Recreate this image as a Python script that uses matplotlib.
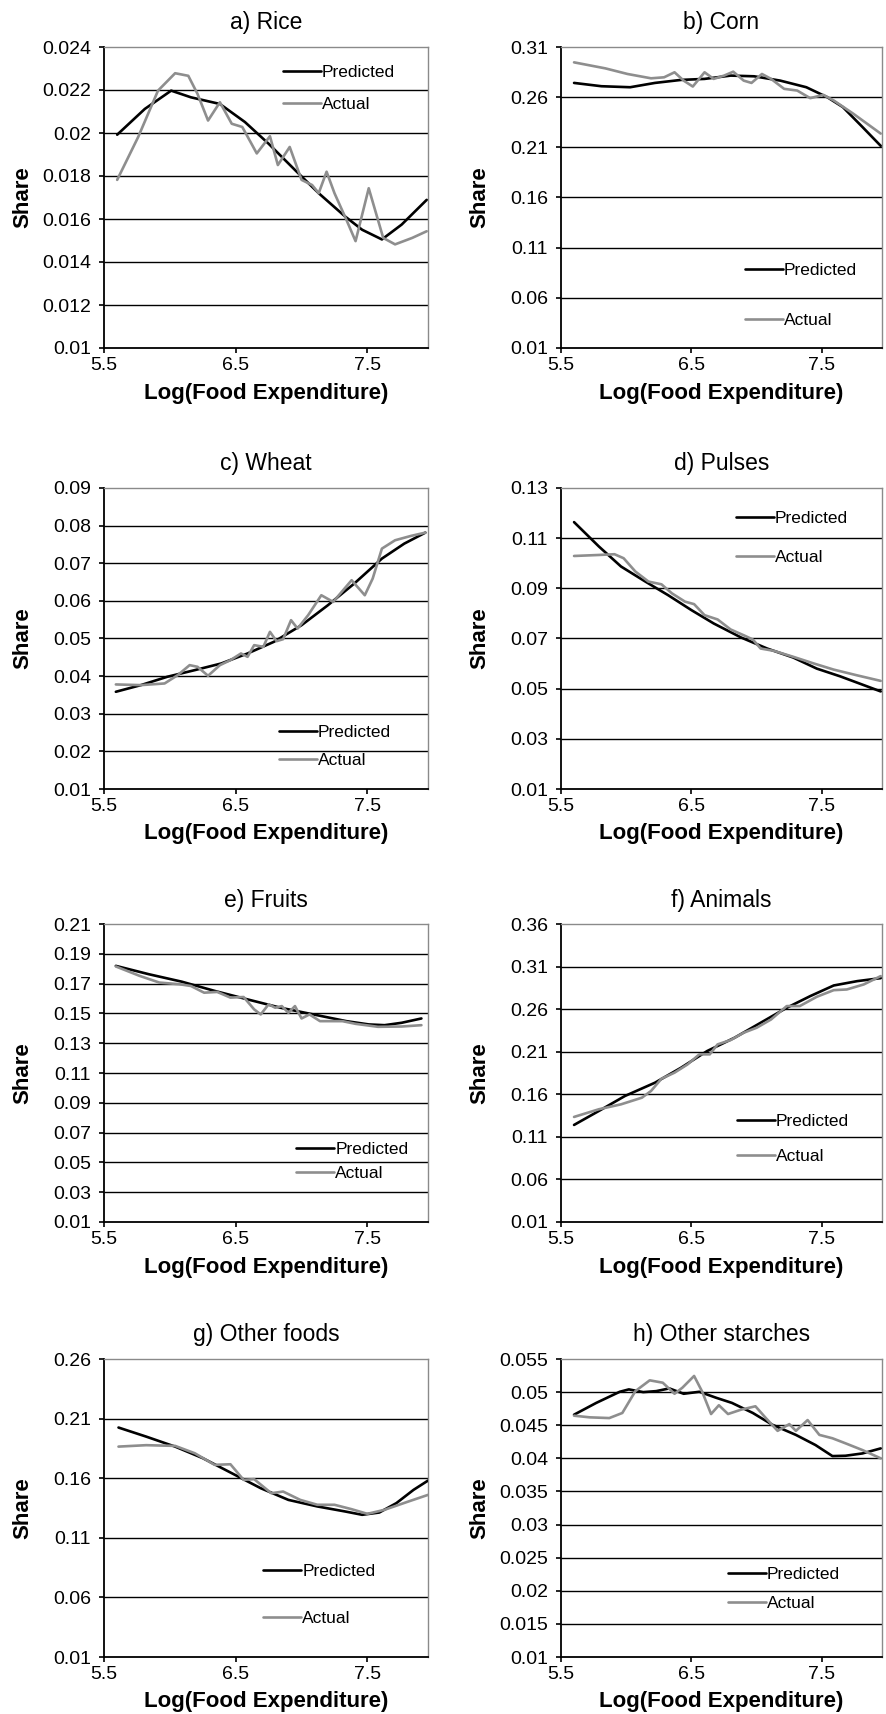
import matplotlib
matplotlib.use('Agg')
import matplotlib.pyplot as plt
from matplotlib.lines import Line2D

plt.rcParams['font.family'] = ['Liberation Sans', 'DejaVu Sans']

# ---------------- data ----------------
x_ticks = [5.5, 6.5, 7.5]
x_tick_labels = ['5.5', '6.5', '7.5']

titles = ['a) Rice', 'b) Corn', 'c) Wheat', 'd) Pulses',
          'e) Fruits', 'f) Animals', 'g) Other foods', 'h) Other starches']

# a) Rice
rice_pred_x = [5.6, 5.81, 6.01, 6.16, 6.38, 6.57, 6.75, 6.95, 7.13, 7.33, 7.46, 7.61, 7.76, 7.95]
rice_pred_y = [0.01992, 0.02112, 0.02197, 0.02166, 0.02135, 0.02051, 0.0195, 0.01828, 0.0172,
               0.01612, 0.0155, 0.01505, 0.01574, 0.01689]
rice_act_x = [5.6, 5.76, 5.91, 6.04, 6.14, 6.21, 6.29, 6.38, 6.47, 6.55, 6.66, 6.76, 6.82, 6.91,
              7.0, 7.08, 7.13, 7.19, 7.25, 7.34, 7.41, 7.51, 7.62, 7.71, 7.84, 7.95]
rice_act_y = [0.01782, 0.01982, 0.02197, 0.02278, 0.02266, 0.02182, 0.02058, 0.02143, 0.02043,
              0.02028, 0.01905, 0.01985, 0.01851, 0.01935, 0.01782, 0.01758, 0.0172, 0.0182,
              0.0172, 0.01597, 0.01497, 0.01743, 0.01512, 0.01482, 0.01512, 0.01543]
rice_yticks = [0.01, 0.012, 0.014, 0.016, 0.018, 0.02, 0.022, 0.024]
rice_ylabels = ['0.01', '0.012', '0.014', '0.016', '0.018', '0.02', '0.022', '0.024']

# b) Corn
corn_pred_x = [5.6, 5.81, 6.03, 6.22, 6.42, 6.6, 6.8, 6.98, 7.18, 7.38, 7.54, 7.66, 7.81, 7.95]
corn_pred_y = [0.2742, 0.2709, 0.2699, 0.2742, 0.2772, 0.2782, 0.2815, 0.2808, 0.2765, 0.2699,
               0.26, 0.2501, 0.2303, 0.2115]
corn_act_x = [5.6, 5.84, 6.01, 6.19, 6.29, 6.37, 6.44, 6.51, 6.6, 6.67, 6.75, 6.82, 6.9, 6.96,
              7.04, 7.11, 7.21, 7.31, 7.41, 7.51, 7.59, 7.74, 7.95]
corn_act_y = [0.2947, 0.2887, 0.2831, 0.2788, 0.2798, 0.2848, 0.2765, 0.2706, 0.2848, 0.2782,
              0.2815, 0.2854, 0.2765, 0.2742, 0.2831, 0.2782, 0.2683, 0.2666, 0.259, 0.2623,
              0.2567, 0.2435, 0.2237]
corn_yticks = [0.01, 0.06, 0.11, 0.16, 0.21, 0.26, 0.31]
corn_ylabels = ['0.01', '0.06', '0.11', '0.16', '0.21', '0.26', '0.31']

# c) Wheat
wheat_pred_x = [5.59, 5.78, 5.98, 6.19, 6.39, 6.59, 6.79, 7.0, 7.2, 7.4, 7.61, 7.78, 7.94]
wheat_pred_y = [0.03584, 0.03761, 0.03982, 0.0416, 0.04336, 0.04602, 0.04912, 0.05354, 0.05885,
                0.0646, 0.07124, 0.07522, 0.07814]
wheat_act_x = [5.59, 5.78, 5.96, 6.06, 6.15, 6.21, 6.29, 6.38, 6.46, 6.54, 6.59, 6.64, 6.71,
               6.76, 6.81, 6.86, 6.92, 6.97, 7.05, 7.15, 7.24, 7.38, 7.48, 7.54, 7.61, 7.71,
               7.83, 7.94]
wheat_act_y = [0.03779, 0.03761, 0.03805, 0.04027, 0.04292, 0.04248, 0.04009, 0.04292, 0.04425,
               0.04602, 0.04513, 0.04823, 0.04779, 0.05177, 0.04929, 0.04982, 0.05487, 0.05265,
               0.0562, 0.0615, 0.05973, 0.06549, 0.0615, 0.06593, 0.07389, 0.07611, 0.07726,
               0.07814]
wheat_yticks = [0.01, 0.02, 0.03, 0.04, 0.05, 0.06, 0.07, 0.08, 0.09]
wheat_ylabels = ['0.01', '0.02', '0.03', '0.04', '0.05', '0.06', '0.07', '0.08', '0.09']

# d) Pulses
pulses_pred_x = [5.6, 5.79, 5.96, 6.14, 6.32, 6.5, 6.67, 6.88, 7.08, 7.28, 7.46, 7.64, 7.79, 7.95]
pulses_pred_y = [0.1164, 0.1067, 0.0987, 0.0929, 0.0873, 0.0813, 0.076, 0.0704, 0.066, 0.0624,
                 0.058, 0.0549, 0.052, 0.0489]
pulses_act_x = [5.6, 5.79, 5.91, 5.98, 6.07, 6.17, 6.27, 6.35, 6.45, 6.52, 6.6, 6.7, 6.8, 6.9,
                6.97, 7.03, 7.13, 7.28, 7.44, 7.59, 7.77, 7.95]
pulses_act_y = [0.1029, 0.1033, 0.1036, 0.102, 0.0967, 0.0927, 0.0916, 0.088, 0.0847, 0.0837,
                0.0793, 0.0776, 0.0736, 0.0713, 0.0696, 0.066, 0.0651, 0.0627, 0.06, 0.0576,
                0.0553, 0.0531]
pulses_yticks = [0.01, 0.03, 0.05, 0.07, 0.09, 0.11, 0.13]
pulses_ylabels = ['0.01', '0.03', '0.05', '0.07', '0.09', '0.11', '0.13']

# e) Fruits
fruits_pred_x = [5.59, 5.84, 6.09, 6.34, 6.59, 6.84, 7.09, 7.34, 7.51, 7.63, 7.76, 7.91]
fruits_pred_y = [0.1819, 0.1763, 0.1713, 0.1651, 0.1594, 0.1538, 0.1493, 0.1448, 0.1426, 0.1421,
                 0.1437, 0.1466]
fruits_act_x = [5.59, 5.77, 5.92, 6.07, 6.16, 6.26, 6.36, 6.46, 6.56, 6.64, 6.69, 6.75, 6.8,
                6.85, 6.9, 6.95, 7.0, 7.06, 7.14, 7.31, 7.41, 7.58, 7.76, 7.91]
fruits_act_y = [0.1815, 0.1752, 0.1707, 0.1696, 0.1684, 0.1639, 0.1644, 0.1606, 0.161, 0.1527,
                0.1493, 0.1561, 0.1538, 0.1549, 0.1504, 0.1549, 0.1466, 0.1493, 0.1448, 0.1448,
                0.143, 0.141, 0.1412, 0.1421]
fruits_yticks = [0.01, 0.03, 0.05, 0.07, 0.09, 0.11, 0.13, 0.15, 0.17, 0.19, 0.21]
fruits_ylabels = ['0.01', '0.03', '0.05', '0.07', '0.09', '0.11', '0.13', '0.15', '0.17',
                  '0.19', '0.21']

# f) Animals
animals_pred_x = [5.6, 5.79, 5.99, 6.22, 6.42, 6.62, 6.83, 7.03, 7.23, 7.41, 7.59, 7.77, 7.95]
animals_pred_y = [0.124, 0.1404, 0.158, 0.1736, 0.1912, 0.2108, 0.2264, 0.244, 0.2616, 0.2753,
                  0.2878, 0.2929, 0.2964]
animals_act_x = [5.6, 5.79, 5.96, 6.12, 6.19, 6.27, 6.37, 6.47, 6.56, 6.64, 6.7, 6.8, 6.9, 7.0,
                 7.11, 7.23, 7.33, 7.46, 7.59, 7.69, 7.82, 7.95]
animals_act_y = [0.1334, 0.1424, 0.1482, 0.156, 0.1639, 0.1783, 0.1854, 0.1951, 0.2069, 0.2069,
                 0.2186, 0.2237, 0.2323, 0.2382, 0.2479, 0.2636, 0.2636, 0.2745, 0.2823, 0.2831,
                 0.289, 0.2988]
animals_yticks = [0.01, 0.06, 0.11, 0.16, 0.21, 0.26, 0.31, 0.36]
animals_ylabels = ['0.01', '0.06', '0.11', '0.16', '0.21', '0.26', '0.31', '0.36']

# g) Other foods
ofoods_pred_x = [5.61, 5.82, 6.04, 6.25, 6.47, 6.69, 6.9, 7.12, 7.33, 7.46, 7.59, 7.72, 7.85, 7.96]
ofoods_pred_y = [0.2025, 0.1949, 0.1865, 0.1768, 0.1642, 0.1516, 0.1418, 0.1363, 0.1321, 0.1293,
                 0.1312, 0.1391, 0.1502, 0.158]
ofoods_act_x = [5.61, 5.82, 6.04, 6.19, 6.34, 6.46, 6.56, 6.64, 6.77, 6.86, 6.99, 7.12, 7.25,
                7.38, 7.5, 7.63, 7.81, 7.96]
ofoods_act_y = [0.1865, 0.1877, 0.1871, 0.1809, 0.1712, 0.1717, 0.1586, 0.1592, 0.1474, 0.1488,
                0.1418, 0.1377, 0.1377, 0.134, 0.1301, 0.1335, 0.1404, 0.146]
ofoods_yticks = [0.01, 0.06, 0.11, 0.16, 0.21, 0.26]
ofoods_ylabels = ['0.01', '0.06', '0.11', '0.16', '0.21', '0.26']

# h) Other starches
ostarch_pred_x = [5.6, 5.77, 5.95, 6.02, 6.13, 6.23, 6.33, 6.44, 6.56, 6.69, 6.81, 6.97, 7.12,
                  7.3, 7.45, 7.58, 7.68, 7.81, 7.95]
ostarch_pred_y = [0.04659, 0.04837, 0.05005, 0.05041, 0.05, 0.05015, 0.05056, 0.04975, 0.05005,
                  0.04914, 0.04837, 0.04685, 0.04507, 0.04354, 0.04201, 0.04034, 0.04039,
                  0.04074, 0.0415]
ostarch_act_x = [5.6, 5.72, 5.87, 5.97, 6.07, 6.18, 6.28, 6.37, 6.43, 6.52, 6.58, 6.65, 6.71,
                 6.78, 6.88, 6.99, 7.07, 7.16, 7.25, 7.3, 7.39, 7.48, 7.58, 7.68, 7.81, 7.95]
ostarch_act_y = [0.04644, 0.04619, 0.04608, 0.04685, 0.05015, 0.05178, 0.05142, 0.04975,
                 0.05066, 0.05244, 0.05015, 0.04669, 0.04802, 0.04669, 0.04735, 0.04786,
                 0.04608, 0.04415, 0.04517, 0.04415, 0.04578, 0.04354, 0.04303, 0.04227,
                 0.04125, 0.04]
ostarch_yticks = [0.01, 0.015, 0.02, 0.025, 0.03, 0.035, 0.04, 0.045, 0.05, 0.055]
ostarch_ylabels = ['0.01', '0.015', '0.02', '0.025', '0.03', '0.035', '0.04', '0.045', '0.05',
                   '0.055']

series = [
    (rice_pred_x, rice_pred_y, rice_act_x, rice_act_y, rice_yticks, rice_ylabels),
    (corn_pred_x, corn_pred_y, corn_act_x, corn_act_y, corn_yticks, corn_ylabels),
    (wheat_pred_x, wheat_pred_y, wheat_act_x, wheat_act_y, wheat_yticks, wheat_ylabels),
    (pulses_pred_x, pulses_pred_y, pulses_act_x, pulses_act_y, pulses_yticks, pulses_ylabels),
    (fruits_pred_x, fruits_pred_y, fruits_act_x, fruits_act_y, fruits_yticks, fruits_ylabels),
    (animals_pred_x, animals_pred_y, animals_act_x, animals_act_y, animals_yticks, animals_ylabels),
    (ofoods_pred_x, ofoods_pred_y, ofoods_act_x, ofoods_act_y, ofoods_yticks, ofoods_ylabels),
    (ostarch_pred_x, ostarch_pred_y, ostarch_act_x, ostarch_act_y, ostarch_yticks, ostarch_ylabels),
]

# ---------------- layout / style ----------------
W, H = 886, 1714
fig = plt.figure(figsize=(W / 100, H / 100), dpi=100)

col_px = [(104, 428), (561, 882)]
row_px = [(47, 348), (488, 789), (924, 1222), (1359, 1657)]

# legend: (x of handle start frac, y centre frac, gap between entries px)
legend_pos = [
    (0.552, 0.862, 37), (0.573, 0.174, 55),
    (0.540, 0.141, 33), (0.545, 0.833, 44),
    (0.593, 0.203, 29), (0.548, 0.279, 40),
    (0.491, 0.208, 52), (0.520, 0.228, 34),
]

GRAY = '#8e8e8e'
BORDER = '#8a8a8a'
leg_fs = 12.5
leg_fs_px = leg_fs * 100 / 72

for i, (px, py, axx, ayy, yt, yl) in enumerate(series):
    r, c = divmod(i, 2)
    x0, x1 = col_px[c]
    y0, y1 = row_px[r]
    ax = fig.add_axes([x0 / W, 1 - y1 / H, (x1 - x0) / W, (y1 - y0) / H])
    h_px = y1 - y0
    w_px = x1 - x0

    ax.set_xlim(5.5, 7.96)
    ax.set_ylim(yt[0], yt[-1])
    ax.set_yticks(yt)
    ax.set_yticklabels(yl)
    ax.set_xticks(x_ticks)
    ax.set_xticklabels(x_tick_labels)

    # horizontal gridlines (interior ticks)
    ax.hlines(yt[1:-1], 0, 1, transform=ax.get_yaxis_transform(),
              colors='black', linewidth=1.0, zorder=1)

    ax.plot(px, py, color='black', linewidth=1.9, solid_joinstyle='round',
            solid_capstyle='round', zorder=3, label='Predicted')
    ax.plot(axx, ayy, color=GRAY, linewidth=1.9, solid_joinstyle='round',
            solid_capstyle='round', zorder=4, label='Actual')

    for s in ['left', 'bottom']:
        ax.spines[s].set_color('black')
        ax.spines[s].set_linewidth(1.3)
    for s in ['top', 'right']:
        ax.spines[s].set_color(BORDER)
        ax.spines[s].set_linewidth(1.0)

    ax.tick_params(axis='y', direction='out', length=3.8, width=1.2, pad=5.5,
                   labelsize=14, colors='black')
    ax.tick_params(axis='x', direction='out', length=3.8, width=1.2, pad=3,
                   labelsize=14, colors='black')

    ax.text(0.5, 1 + 24 / h_px, titles[i], transform=ax.transAxes,
            ha='center', va='center', fontsize=16.5)
    ax.text(-81 / w_px, 0.5, 'Share', transform=ax.transAxes, rotation=90,
            ha='center', va='center', fontsize=16, fontweight='bold')
    ax.text(0.5, -45 / h_px, 'Log(Food Expenditure)', transform=ax.transAxes,
            ha='center', va='center', fontsize=16, fontweight='bold')

    lx, lyc, gap = legend_pos[i]
    spacing = (gap - 1.17 * leg_fs_px) / leg_fs_px
    ax.legend(loc='center left', bbox_to_anchor=(lx, lyc), frameon=False,
              fontsize=leg_fs, handlelength=2.2, handletextpad=0.05,
              borderpad=0, borderaxespad=0, labelspacing=spacing)

fig.savefig('out.png', dpi=100)
